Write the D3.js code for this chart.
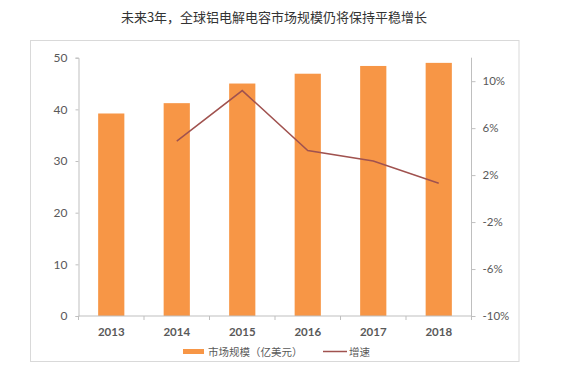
<!DOCTYPE html>
<html><head><meta charset="utf-8">
<script src="https://cdn.jsdelivr.net/npm/d3@7"></script>
<style>
html,body{margin:0;padding:0;background:#fff;}
svg{display:block;}
text{font-family:Lato,"Noto Sans CJK SC",sans-serif;}
</style></head>
<body>
<svg id="c" width="566" height="370"></svg>
<script>
const title = "未来3年，全球铝电解电容市场规模仍将保持平稳增长";
const years = ["2013","2014","2015","2016","2017","2018"];
const marketSize = [39.2, 41.2, 45.0, 46.9, 48.4, 49.0];
const growthYears = ["2014","2015","2016","2017","2018"];
const growth = [4.9, 9.2, 4.1, 3.2, 1.3];
const leftTicks = [0,10,20,30,40,50];
const rightTicks = [-10,-6,-2,2,6,10];
const legendLabels = ["市场规模（亿美元）","增速"];

const svg = d3.select("#c");
const barColor = "#F79646", lineColor = "#A0524F", axisColor = "#BFBFBF", textColor = "#595959";
const L = 78.5, R = 471.5, T = 57.7, B = 316;

svg.append("rect").attr("x",30.5).attr("y",40.5).attr("width",488.5).attr("height",321)
  .attr("fill","none").attr("stroke","#D9D9D9").attr("stroke-width",1);

svg.append("text").attr("x",274).attr("y",22).attr("text-anchor","middle")
  .attr("font-size",13).attr("fill","#333").style("font-family","'Noto Sans CJK SC',sans-serif").text(title);

const x = d3.scaleBand().domain(years).range([L,R]).paddingInner(0.6).paddingOuter(0.3);
const y = d3.scaleLinear().domain([0,50]).range([B,T]);
const y2 = d3.scaleLinear().domain([-10,12]).range([B,T]);

// bars
svg.append("g").selectAll("rect").data(years).join("rect")
  .attr("x",d=>x(d)).attr("width",x.bandwidth())
  .attr("y",(d,i)=>y(marketSize[i])).attr("height",(d,i)=>B-y(marketSize[i]))
  .attr("fill",barColor);

// left axis
const gl = svg.append("g").attr("transform",`translate(${L},0)`)
  .call(d3.axisLeft(y).tickValues(leftTicks).tickSize(3).tickPadding(8));
gl.select(".domain").attr("stroke",axisColor);
gl.selectAll(".tick line").attr("stroke",axisColor);
gl.selectAll("text").attr("font-size",12).attr("fill",textColor).style("font-family","Lato,sans-serif");

// right axis
const gr = svg.append("g").attr("transform",`translate(${R},0)`)
  .call(d3.axisRight(y2).tickValues(rightTicks).tickFormat(d=>d+"%").tickSize(4).tickPadding(7));
gr.select(".domain").attr("stroke",axisColor).attr("d",`M0,${B}V${T}`);
gr.selectAll(".tick line").attr("stroke",axisColor);
gr.selectAll("text").attr("font-size",11.5).attr("fill",textColor).style("font-family","Lato,sans-serif");

// x axis
const step = x.step();
const gx = svg.append("g").attr("transform",`translate(0,${B})`);
gx.append("line").attr("x1",L).attr("x2",R).attr("stroke",axisColor);
const boundaries = d3.range(years.length+1).map(i=>L + i*(R-L)/years.length);
gx.selectAll("line.tk").data(boundaries).join("line").attr("class","tk")
  .attr("x1",d=>d).attr("x2",d=>d).attr("y1",0).attr("y2",4).attr("stroke",axisColor);
gx.selectAll("text").data(years).join("text")
  .attr("x",d=>x(d)+x.bandwidth()/2).attr("y",20).attr("text-anchor","middle")
  .attr("font-size",11.5).attr("font-weight","bold").attr("fill",textColor).text(d=>d);

// growth line
const line = d3.line().x((d,i)=>x(growthYears[i])+x.bandwidth()/2).y(d=>y2(d));
svg.append("path").datum(growth).attr("d",line).attr("fill","none")
  .attr("stroke",lineColor).attr("stroke-width",1.5);

// legend
const lg = svg.append("g");
lg.append("rect").attr("x",183).attr("y",349).attr("width",21).attr("height",5).attr("fill",barColor);
lg.append("text").attr("x",208).attr("y",355.5).attr("font-size",10.5).attr("fill",textColor)
  .style("font-family","'Noto Sans CJK SC',sans-serif").text(legendLabels[0]);
lg.append("line").attr("x1",323).attr("x2",347).attr("y1",351.5).attr("y2",351.5)
  .attr("stroke",lineColor).attr("stroke-width",1.5);
lg.append("text").attr("x",349).attr("y",355.5).attr("font-size",10.5).attr("fill",textColor)
  .style("font-family","'Noto Sans CJK SC',sans-serif").text(legendLabels[1]);
</script>
</body></html>
